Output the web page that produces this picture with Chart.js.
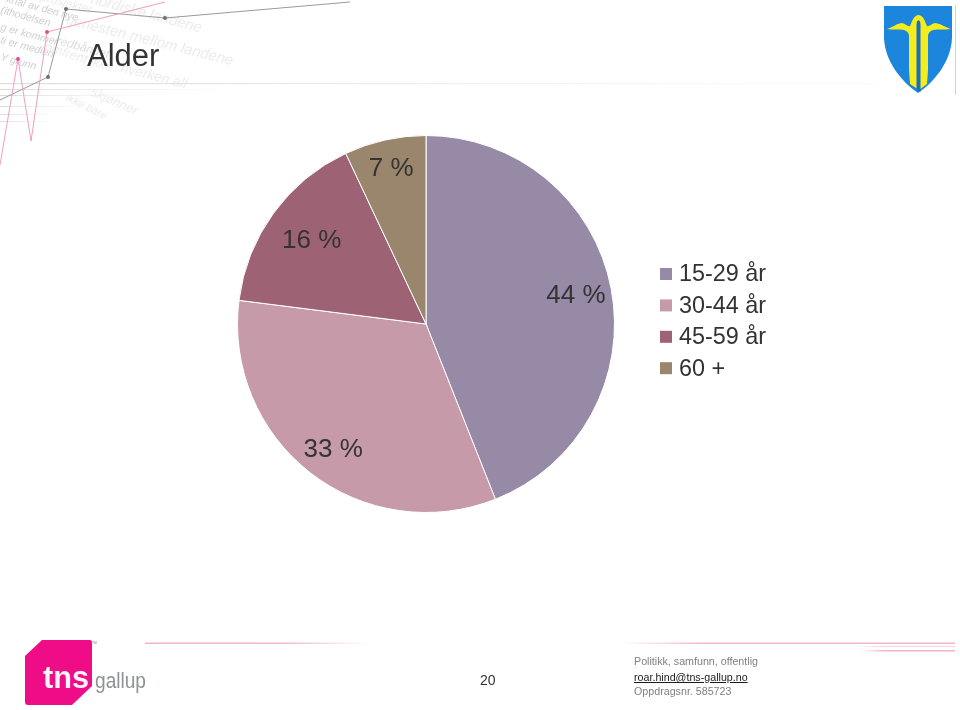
<!DOCTYPE html>
<html>
<head>
<meta charset="utf-8">
<title>Alder</title>
<script src="https://cdn.jsdelivr.net/npm/chart.js@4"></script>
<style>
  html, body { margin: 0; padding: 0; background: #fff; }
  #page { position: relative; width: 960px; height: 710px; overflow: hidden; font-family: "Liberation Sans", Arial, sans-serif; }
  #deco, #chart { position: absolute; left: 0; top: 0; }
  .foot { position: absolute; left: 634px; font-size: 10.7px; color: #808080; white-space: nowrap; }
</style>
</head>
<body>
<div id="page">
  <svg id="deco" width="960" height="710" viewBox="0 0 960 710">
    <defs>
      <filter id="soft"><feGaussianBlur stdDeviation="0.5"/></filter>
      <linearGradient id="fadeR" x1="0" x2="1" y1="0" y2="0">
        <stop offset="0" stop-color="#f2b6cc" stop-opacity="0"/>
        <stop offset="0.25" stop-color="#f2b6cc"/>
        <stop offset="1" stop-color="#f2b6cc"/>
      </linearGradient>
      <linearGradient id="fadeBoth" x1="0" x2="1" y1="0" y2="0">
        <stop offset="0" stop-color="#f2b6cc"/>
        <stop offset="0.6" stop-color="#f2b6cc"/>
        <stop offset="1" stop-color="#f2b6cc" stop-opacity="0"/>
      </linearGradient>
      <linearGradient id="fadeGrey" x1="0" x2="1" y1="0" y2="0">
        <stop offset="0" stop-color="#dcdcdc"/>
        <stop offset="1" stop-color="#eeeeee" stop-opacity="0.2"/>
      </linearGradient>
    </defs>

    <!-- watermark text top left -->
    <g filter="url(#soft)" font-style="italic" fill="#cfcfcf" font-size="10.5">
      <text transform="translate(6,2) rotate(15)">knål av den nye</text>
      <text transform="translate(0,13) rotate(15)">(ithodelsen</text>
      <text transform="translate(0,30) rotate(15)">g er kommer</text>
      <text transform="translate(0,43) rotate(15)">ti er medien</text>
      <text transform="translate(0,60) rotate(15)">Y grunn</text>
    </g>
    <g filter="url(#soft)" font-style="italic" fill="#ececec">
      <text transform="translate(66,24) rotate(14)" font-size="15">tjenesten mellom landene</text>
      <text transform="translate(90,3) rotate(15)" font-size="15">nordiske landene</text>
      <text transform="translate(40,0) rotate(15)" font-size="12">prosjekter</text>
      <text transform="translate(56,44) rotate(15)" font-size="12" fill="#dedede">redbåndet</text>
      <text transform="translate(44,50) rotate(18)" font-size="13">omfrent ikke</text>
      <text transform="translate(120,72) rotate(14)" font-size="14">hverken all</text>
      <text transform="translate(90,95) rotate(24)" font-size="13">skjønner</text>
      <text transform="translate(65,100) rotate(26)" font-size="11">ikke bare</text>
    </g>

    <!-- faint rule lines -->
    <g filter="url(#soft)">
      <rect x="0" y="83" width="880" height="1.2" fill="url(#fadeGrey)"/>
      <rect x="0" y="89" width="220" height="1" fill="url(#fadeGrey)"/>
      <rect x="0" y="95" width="145" height="1" fill="url(#fadeGrey)"/>
      <rect x="0" y="106" width="85" height="1" fill="url(#fadeGrey)"/>
      <rect x="0" y="114" width="50" height="1" fill="url(#fadeGrey)"/>
      <rect x="0" y="121" width="50" height="1" fill="url(#fadeGrey)"/>
    </g>

    <!-- grey and pink zigzags -->
    <polyline points="0,100 48,77 66,9 165,18 350,2" fill="none" stroke="#9a9a9a" stroke-width="1"/>
    <polyline points="0,165 18,59 31,141 47,32 165,2" fill="none" stroke="#eda0c4" stroke-width="1"/>
    <g fill="#6f6f6f">
      <circle cx="48" cy="77" r="2"/><circle cx="66" cy="9" r="2"/><circle cx="165" cy="18" r="2"/>
    </g>
    <g fill="#e8478f">
      <circle cx="18" cy="59" r="2"/><circle cx="47" cy="32" r="2"/>
    </g>

    <!-- crest -->
    <rect x="955" y="5" width="1" height="90" fill="#f3c4c4"/>
    <path d="M884,6 L952,6 L952,38 C951,62 934,82 918,93 C902,82 885,62 884,38 Z" fill="#1c86dc"/>
    <path d="M887,29 C893,27 898,23 902,23 C906,24 908,27 910,26 C912,22 913,16 918.5,15 C924,16 925,22 927,26 C929,27 931,24 935,23 C939,23 945,27 951,29 C945,30 938,29 933,30 C930,31 928,33 928,36 L928,70 L927,84 L919,90 L910,84 L909,70 L909,36 C909,33 907,31 904,30 C899,29 892,30 887,29 Z" fill="#f5ec1e"/>
    <path d="M916.5,24 C917,19 920,19 920.5,24 L920.5,92 L916.5,90 Z" fill="#1c6fc0"/>

    <!-- tns gallup logo -->
    <path d="M42,640 L90,640 Q92,640 92,643 L92,686 L72,705 L28,705 Q25,705 25,702 L25,656 Z" fill="#ee0f87" filter="url(#soft)"/>
    <text x="43" y="688" font-size="31" font-weight="bold" fill="#fdf2f8" font-family="'Liberation Sans', sans-serif" textLength="46" lengthAdjust="spacingAndGlyphs" filter="url(#soft)">tns</text>
    <text x="95" y="688" font-size="22" fill="#8e9394" font-family="'Liberation Sans Narrow', 'Liberation Sans', sans-serif" textLength="51" lengthAdjust="spacingAndGlyphs" filter="url(#soft)">gallup</text>
    <text x="91" y="644" font-size="4" fill="#888888">TM</text>

    <!-- footer rules -->
    <rect x="145" y="642.5" width="225" height="1.5" fill="url(#fadeBoth)" filter="url(#soft)"/>
    <rect x="620" y="642.5" width="335" height="1.5" fill="url(#fadeR)" filter="url(#soft)"/>
    <rect x="855" y="646" width="100" height="1" fill="url(#fadeR)" opacity="0.6" filter="url(#soft)"/>
    <rect x="860" y="650" width="95" height="1.5" fill="url(#fadeR)" filter="url(#soft)"/>
  </svg>

  <canvas id="chart" width="960" height="710"></canvas>

  <div class="foot" style="top:655px">Politikk, samfunn, offentlig</div>
  <div class="foot" style="top:671px;color:#1c1c1c;text-decoration:underline">roar.hind@tns-gallup.no</div>
  <div class="foot" style="top:685px">Oppdragsnr. 585723</div>
</div>

<script>
const categories = ["15-29 år", "30-44 år", "45-59 år", "60 +"]
const shares = [44, 33, 16, 7]
const sliceColors = ["#968AA6", "#C69AA8", "#9E6275", "#9A866C"]
const labelDistance = [0.81, 0.83, 0.75, 0.845]
const labelTurn = [0, -0.025, 0, 0]
const pageTitle = "Alder"
const pageNumber = "20"

const textColor = "#333333"
const font = '"Liberation Sans", Arial, sans-serif'

const pageText = {
    id: "pageText",
    afterDraw(chart) {
        const ctx = chart.ctx
        ctx.save()
        ctx.textBaseline = "middle"

        // percent labels on the slices
        ctx.font = "26px " + font
        ctx.fillStyle = textColor
        ctx.textAlign = "center"
        chart.getDatasetMeta(0).data.forEach((arc, i) => {
            const p = arc.getProps(["x", "y", "startAngle", "endAngle", "outerRadius"], true)
            const mid = (p.startAngle + p.endAngle) / 2 + labelTurn[i]
            const r = p.outerRadius * labelDistance[i]
            ctx.fillText(shares[i] + " %", p.x + Math.cos(mid) * r, p.y + Math.sin(mid) * r)
        })

        // legend
        ctx.textAlign = "left"
        ctx.font = "23.4px " + font
        categories.forEach((name, i) => {
            const y = 274 + i * 31.4
            ctx.fillStyle = sliceColors[i]
            ctx.fillRect(660, y - 6, 12, 12)
            ctx.fillStyle = textColor
            ctx.fillText(name, 679, y + 1)
        })

        // title and page number
        ctx.font = "31px " + font
        ctx.fillText(pageTitle, 87, 57)
        ctx.font = "14px " + font
        ctx.fillText(pageNumber, 480, 681)
        ctx.restore()
    }
}

new Chart(document.querySelector("#chart"), {
    type: "pie",
    data: {
        labels: categories,
        datasets: [{
            data: shares,
            backgroundColor: sliceColors,
            borderColor: "#ffffff",
            borderWidth: 1
        }]
    },
    options: {
        responsive: false,
        animation: false,
        layout: { padding: { left: 237, right: 345, top: 135, bottom: 197 } },
        plugins: {
            legend: { display: false },
            tooltip: { enabled: false }
        }
    },
    plugins: [pageText]
})
</script>
</body>
</html>
